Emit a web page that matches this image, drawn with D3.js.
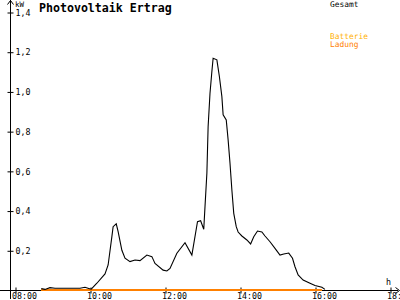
<!DOCTYPE html>
<html><head><meta charset="utf-8">
<script src="https://cdn.jsdelivr.net/npm/d3@7"></script>
<style>
html,body{margin:0;padding:0;background:#fff;}
svg{display:block;}
text{font-family:"DejaVu Sans Mono",monospace;}
</style></head>
<body>
<script>
const title = "Photovoltaik Ertrag";
const legendNames = ["Gesamt", "Batterie", "Ladung"];
const legendColors = ["#000000", "#FFB000", "#FF8000"];
const xTickHours = [8, 10, 12, 14, 16, 18];
const xTickLabels = ["08:00", "10:00", "12:00", "14:00", "16:00", "18:00"];
const yTickValues = [0.2, 0.4, 0.6, 0.8, 1.0, 1.2, 1.4];
const yTickLabels = ["0,2", "0,4", "0,6", "0,8", "1,0", "1,2", "1,4"];
const times = ["08:42","08:48","08:56","09:04","09:44","09:52","09:58","10:02","10:11","10:24","10:29","10:35","10:37","10:42","10:45","10:51","10:56","11:04","11:12","11:20","11:31","11:39","11:44","11:57","12:03","12:08","12:19","12:32","12:43","12:52","12:57","13:02","13:04","13:07","13:09","13:12","13:15","13:17","13:23","13:27","13:31","13:33","13:38","13:41","13:44","13:47","13:50","13:54","13:57","14:03","14:11","14:17","14:22","14:28","14:35","14:40","14:48","14:56","15:04","15:10","15:18","15:24","15:28","15:33","15:41","15:52","16:00","16:11","16:16"];
const gesamt = [0.007,0.003,0.012,0.009,0.009,0.014,0.008,0.004,0.034,0.081,0.126,0.269,0.319,0.333,0.294,0.200,0.160,0.143,0.151,0.148,0.176,0.168,0.134,0.100,0.096,0.109,0.185,0.238,0.176,0.344,0.349,0.306,0.420,0.588,0.823,0.991,1.100,1.167,1.159,1.075,0.974,0.882,0.856,0.756,0.638,0.504,0.386,0.319,0.292,0.272,0.252,0.232,0.268,0.297,0.292,0.272,0.243,0.210,0.176,0.181,0.186,0.160,0.117,0.076,0.050,0.034,0.023,0.014,0.003];
const batterieTimes = ["08:42","16:11"];
const batterie = [0, 0];
const ladung = [0, 0];

const W = 400, H = 300;
const svg = d3.select("body").append("svg").attr("width", W).attr("height", H);
const toH = s => { const [h, m] = s.split(":").map(Number); return h + m / 60; };
const x = d3.scaleLinear().domain([8, 18]).range([15, 390]);
const y = d3.scaleLinear().domain([0, 1.4]).range([290, 12]);

// axes lines
svg.append("line").attr("x1", 10.5).attr("x2", 10.5).attr("y1", 0).attr("y2", 299).attr("stroke", "#000");
svg.append("path").attr("d", "M7.5,4.5L10.5,0.5L13.5,4.5").attr("fill", "none").attr("stroke", "#000");
svg.append("line").attr("x1", 0).attr("x2", 398).attr("y1", 290.5).attr("y2", 290.5).attr("stroke", "#000");
svg.append("path").attr("d", "M395.5,287.5L399.5,290.5L395.5,293.5").attr("fill", "none").attr("stroke", "#000");

// y axis
const yAxis = d3.axisLeft(y).tickValues(yTickValues).tickFormat((d, i) => yTickLabels[i]).tickSize(0);
const gy = svg.append("g").attr("transform", "translate(10.5,0.5)").call(yAxis);
gy.select(".domain").remove();
gy.selectAll(".tick line").attr("x1", -3).attr("x2", 3).attr("stroke", "#000");
gy.selectAll(".tick text").attr("x", 5).attr("dy", "0.32em").attr("text-anchor", "start")
  .attr("font-size", 8.3).attr("font-family", "DejaVu Sans Mono").attr("fill", "#000");

// x axis
const xAxis = d3.axisBottom(x).tickValues(xTickHours).tickFormat((d, i) => xTickLabels[i]).tickSize(0);
const gx = svg.append("g").attr("transform", "translate(0.5,290.5)").call(xAxis);
gx.select(".domain").remove();
gx.selectAll(".tick line").attr("y1", -3).attr("y2", 3).attr("stroke", "#000");
gx.selectAll(".tick text").attr("x", -4).attr("y", 8.5).attr("dy", 0).attr("text-anchor", "start")
  .attr("font-size", 8.3).attr("font-family", "DejaVu Sans Mono").attr("fill", "#000");

// unit labels
svg.append("text").attr("x", 15).attr("y", 7).attr("font-size", 7.5).text("kW");
svg.append("text").attr("x", 386).attr("y", 285).attr("font-size", 8.3).text("h");

// title
svg.append("text").attr("x", 39).attr("y", 12).attr("font-size", 11.6).attr("font-weight", "bold").text(title);

// legend
const legY = [7, 38.5, 47];
svg.selectAll("text.leg").data(legendNames).join("text").attr("class", "leg")
  .attr("x", 330).attr("y", (d, i) => legY[i]).attr("font-size", 7.9)
  .attr("fill", (d, i) => legendColors[i]).text(d => d);

// lines
const line = d3.line().x(d => x(d[0])).y(d => y(d[1]));
const bt = batterieTimes.map(toH);
svg.append("path").datum(bt.map((t, i) => [t, batterie[i]])).attr("d", line)
  .attr("fill", "none").attr("stroke", legendColors[1]).attr("stroke-width", 2);
svg.append("path").datum(bt.map((t, i) => [t, ladung[i]])).attr("d", line)
  .attr("fill", "none").attr("stroke", legendColors[2]).attr("stroke-width", 2);
svg.append("path").datum(times.map((t, i) => [toH(t), gesamt[i]])).attr("d", line)
  .attr("fill", "none").attr("stroke", "#000").attr("stroke-width", 1.1);
</script>
</body></html>
